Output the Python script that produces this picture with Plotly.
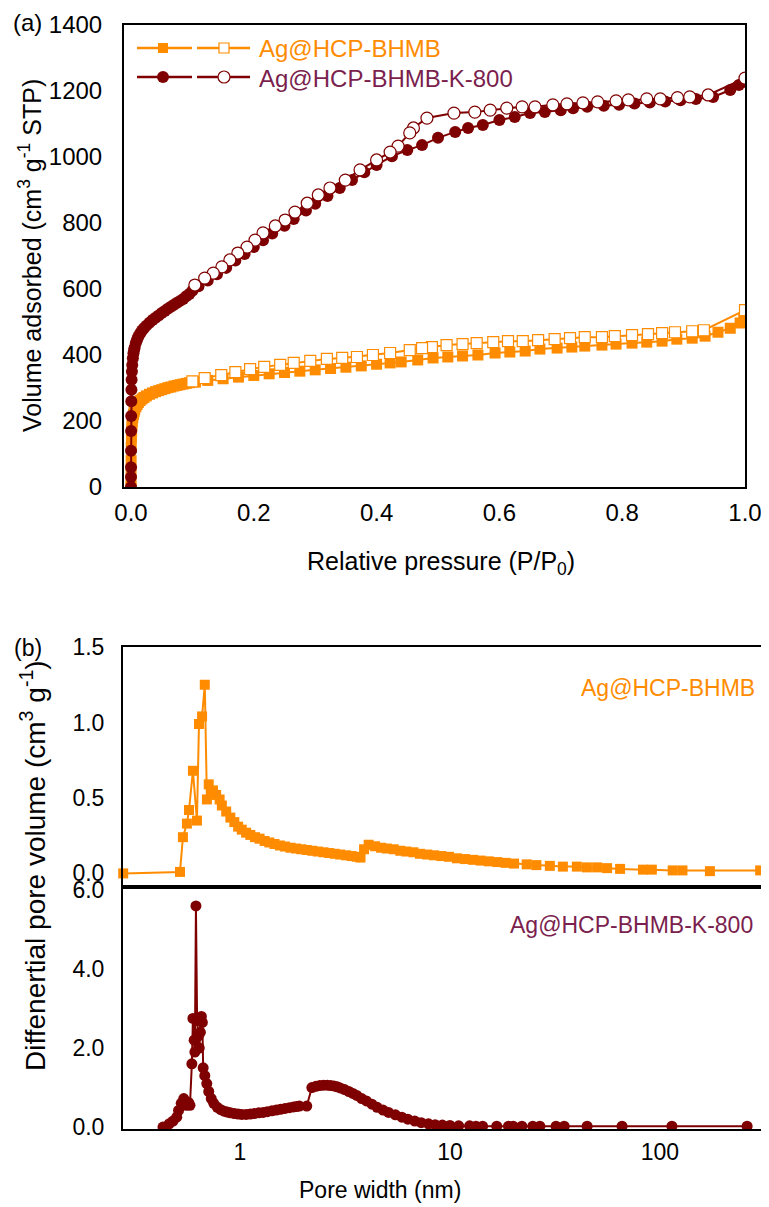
import plotly.graph_objects as go

W, H = 769, 1207
OFF = 8  # the page body margin shifts the figure by this many pixels
ORANGE = "#FF8C00"
MAROON = "#7F0000"
PLUM = "#7B1F4E"
FONT = "Liberation Sans, Arial, sans-serif"

# (a) N2 sorption isotherms, relative pressure vs volume adsorbed
bhmb_ads_p = [0.00001, 0.00005, 0.0001, 0.0002, 0.0004, 0.0007, 0.001, 0.0015, 0.002, 0.003,
              0.004, 0.005, 0.006, 0.008, 0.010, 0.012, 0.015, 0.018, 0.021, 0.025,
              0.03, 0.035, 0.04, 0.045, 0.05, 0.055, 0.06, 0.065, 0.07, 0.075,
              0.08, 0.085, 0.09, 0.095, 0.105, 0.125, 0.15, 0.175, 0.2, 0.225,
              0.25, 0.275, 0.3, 0.325, 0.35, 0.375, 0.4, 0.422, 0.44, 0.467,
              0.492, 0.516, 0.54, 0.565, 0.593, 0.617, 0.642, 0.666, 0.694, 0.718,
              0.739, 0.767, 0.79, 0.816, 0.84, 0.865, 0.889, 0.914, 0.935, 0.956,
              0.976, 0.992, 0.998]
bhmb_ads_v = [0, 20, 45, 80, 120, 150, 170, 185, 197, 210,
              220, 228, 234, 243, 250, 256, 262, 267, 271, 276,
              281, 285, 289, 292, 295, 298, 301, 303, 306, 308,
              310, 312, 314, 316, 318, 323, 328, 333, 338, 343,
              347, 351, 355, 359, 363, 367, 372, 376, 379, 385,
              391, 394, 397, 400, 406, 409, 412, 418, 421, 424,
              427, 430, 433, 436, 439, 442, 448, 451, 457, 469,
              481, 497, 510]
bhmb_des_p = [1.0, 0.933, 0.914, 0.886, 0.865, 0.842, 0.816, 0.788, 0.767, 0.739,
              0.715, 0.69, 0.663, 0.638, 0.614, 0.59, 0.563, 0.54, 0.514, 0.49,
              0.474, 0.454, 0.422, 0.394, 0.368, 0.344, 0.319, 0.292, 0.265, 0.243,
              0.217, 0.194, 0.17, 0.147, 0.12, 0.1]
bhmb_des_v = [536, 475, 472, 469, 466, 463, 460, 457, 454, 454,
              451, 448, 445, 442, 442, 439, 436, 433, 430, 424,
              421, 415, 406, 400, 394, 391, 388, 382, 376, 370,
              364, 357, 348, 339, 330, 320]

k800_ads_p = [0.00001, 0.00003, 0.00005, 0.0001, 0.0002, 0.0003, 0.0005, 0.0007, 0.001, 0.0015,
              0.002, 0.003, 0.004, 0.005, 0.006, 0.008, 0.01, 0.012, 0.015, 0.018,
              0.021, 0.025, 0.03, 0.035, 0.04, 0.045, 0.05, 0.055, 0.06, 0.065,
              0.07, 0.075, 0.08, 0.085, 0.09, 0.095, 0.1, 0.11, 0.125, 0.14,
              0.155, 0.17, 0.185, 0.2, 0.215, 0.23, 0.25, 0.265, 0.285, 0.3,
              0.32, 0.34, 0.36, 0.38, 0.4, 0.425, 0.45, 0.474, 0.5, 0.528,
              0.549, 0.573, 0.6, 0.625, 0.65, 0.674, 0.7, 0.72, 0.743, 0.77,
              0.795, 0.82, 0.845, 0.87, 0.895, 0.92, 0.948, 0.976, 0.99, 0.998]
k800_ads_v = [0, 30, 60, 110, 170, 215, 260, 295, 325, 350,
              370, 390, 405, 415, 423, 437, 447, 456, 466, 474,
              481, 489, 498, 506, 513, 520, 527, 533, 540, 546,
              552, 558, 564, 570, 578, 585, 595, 608, 626, 645,
              664, 686, 706, 727, 748, 768, 792, 812, 838, 858,
              882, 906, 930, 954, 976, 1002, 1021, 1036, 1058, 1076,
              1088, 1097, 1112, 1121, 1133, 1136, 1142, 1148, 1152, 1155,
              1158, 1162, 1165, 1168, 1172, 1176, 1182, 1203, 1218, 1228]
k800_des_p = [1.0, 0.94, 0.91, 0.89, 0.862, 0.84, 0.81, 0.79, 0.76, 0.736,
              0.71, 0.687, 0.658, 0.637, 0.612, 0.585, 0.56, 0.526, 0.482, 0.46,
              0.454, 0.435, 0.422, 0.4, 0.373, 0.349, 0.324, 0.305, 0.287, 0.267,
              0.251, 0.235, 0.215, 0.202, 0.189, 0.174, 0.161, 0.148, 0.134, 0.12,
              0.104]
k800_des_v = [1239, 1188, 1182, 1180, 1176, 1176, 1173, 1170, 1167, 1164,
              1161, 1158, 1152, 1152, 1148, 1142, 1136, 1133, 1118, 1088,
              1073, 1033, 1015, 991, 961, 930, 906, 885, 860, 833,
              809, 791, 770, 748, 727, 709, 688, 667, 648, 633,
              612]

# (b) pore size distributions, pore width (nm) vs differential pore volume
bhmb_w = [0.278, 0.518, 0.535, 0.559, 0.572, 0.597, 0.624, 0.638, 0.66, 0.68,
          0.696, 0.71, 0.744, 0.77, 0.80, 0.82, 0.86, 0.90, 0.94, 0.98,
          1.02, 1.07, 1.12, 1.18, 1.24, 1.31, 1.38, 1.46, 1.55, 1.64,
          1.74, 1.85, 1.96, 2.08, 2.21, 2.35, 2.5, 2.66, 2.83, 3.0,
          3.2, 3.4, 3.6, 3.75, 3.9, 4.1, 4.4, 4.7, 5.0, 5.4,
          5.8, 6.2, 6.7, 7.2, 7.8, 8.4, 9.1, 9.9, 10.8, 11.8,
          12.9, 14.0, 15.3, 16.8, 18.4, 20.2, 23.2, 25.8, 29.9, 34.5,
          40.2, 44.9, 50.2, 56.0, 64.6, 83.0, 91.5, 115, 128, 173,
          300]
bhmb_dv = [0.0, 0.01, 0.24, 0.33, 0.42, 0.68, 0.35, 0.99, 1.04, 1.25,
           0.49, 0.59, 0.55, 0.52, 0.49, 0.45, 0.41, 0.37, 0.34, 0.31,
           0.29, 0.27, 0.255, 0.24, 0.23, 0.215, 0.205, 0.195, 0.185, 0.178,
           0.17, 0.165, 0.16, 0.155, 0.15, 0.145, 0.14, 0.135, 0.13, 0.125,
           0.12, 0.115, 0.11, 0.105, 0.16, 0.19, 0.18, 0.17, 0.165, 0.16,
           0.15, 0.145, 0.14, 0.13, 0.125, 0.12, 0.115, 0.11, 0.10, 0.095,
           0.09, 0.085, 0.08, 0.075, 0.07, 0.065, 0.06, 0.055, 0.05, 0.045,
           0.045, 0.04, 0.04, 0.035, 0.03, 0.025, 0.025, 0.02, 0.02, 0.015,
           0.02]

k800_w = [0.43, 0.46, 0.48, 0.50, 0.51, 0.525, 0.54, 0.555, 0.57, 0.578,
          0.59, 0.597, 0.605, 0.61, 0.617, 0.625, 0.632, 0.64, 0.648, 0.655,
          0.662, 0.668, 0.68, 0.695, 0.71, 0.73, 0.75, 0.78, 0.81, 0.84,
          0.87, 0.9, 0.94, 0.98, 1.02, 1.07, 1.12, 1.17, 1.23, 1.29,
          1.35, 1.42, 1.49, 1.56, 1.64, 1.72, 1.80, 1.86, 1.92, 2.08,
          2.2, 2.3, 2.4, 2.5, 2.6, 2.7, 2.8, 2.9, 3.0, 3.15,
          3.3, 3.45, 3.6, 3.8, 4.0, 4.25, 4.5, 4.8, 5.1, 5.5,
          5.9, 6.3, 6.8, 7.3, 7.9, 8.5, 9.2, 10.0, 11.0, 12.4,
          13.3, 14.3, 16.7, 19.0, 20.0, 22.0, 24.8, 26.8, 32.0, 35.0,
          45.0, 66.0, 114.0, 260.0]
k800_dv = [0.0, 0.08, 0.15, 0.25, 0.42, 0.6, 0.72, 0.55, 0.62, 0.55,
           1.6, 2.75, 2.2, 1.9, 5.6, 2.7, 2.3, 2.0, 2.4, 2.8,
           2.65, 1.5, 1.3, 1.1, 0.9, 0.72, 0.6, 0.5, 0.44, 0.4,
           0.38, 0.36, 0.34, 0.33, 0.32, 0.32, 0.33, 0.34, 0.36, 0.37,
           0.39, 0.41, 0.43, 0.45, 0.47, 0.49, 0.51, 0.52, 0.53, 0.53,
           1.0, 1.03, 1.05, 1.06, 1.06, 1.05, 1.04, 1.02, 0.99, 0.95,
           0.9, 0.85, 0.8, 0.72, 0.66, 0.58, 0.5, 0.43, 0.37, 0.31,
           0.25, 0.2, 0.15, 0.11, 0.08, 0.06, 0.05, 0.04, 0.03, 0.03,
           0.02, 0.02, 0.02, 0.02, 0.02, 0.02, 0.02, 0.02, 0.02, 0.02,
           0.02, 0.02, 0.02, 0.02]

p_ticks = [0.0, 0.2, 0.4, 0.6, 0.8, 1.0]
v_ticks = [0, 200, 400, 600, 800, 1000, 1200, 1400]
w_ticks = [1, 10, 100]
dv_top_ticks = [0.0, 0.5, 1.0, 1.5]
dv_bot_ticks = [0.0, 2.0, 4.0, 6.0]


# helpers take page pixels and convert them to paper fractions
def dom_x(left, right):
    return [(left - OFF) / W, (right - OFF) / W]


def dom_y(top, bottom):
    return [1 - (bottom - OFF) / H, 1 - (top - OFF) / H]


def txt(x, y, text, size, color="black", anchor="center", angle=0):
    return dict(x=(x - OFF) / W, y=1 - (y - OFF) / H, xref="paper", yref="paper",
                text=text, xanchor=anchor, yanchor="middle", textangle=angle,
                showarrow=False, font=dict(family=FONT, size=size, color=color))


fig = go.Figure()

# panel (a)
fig.add_trace(go.Scatter(x=bhmb_ads_p, y=bhmb_ads_v, mode="lines+markers",
                         line=dict(color=ORANGE, width=2),
                         marker=dict(symbol="square", size=11, color=ORANGE),
                         xaxis="x", yaxis="y"))
fig.add_trace(go.Scatter(x=bhmb_des_p, y=bhmb_des_v, mode="lines+markers",
                         line=dict(color=ORANGE, width=2),
                         marker=dict(symbol="square", size=11, color="white",
                                     line=dict(color=ORANGE, width=1.2)),
                         xaxis="x", yaxis="y"))
fig.add_trace(go.Scatter(x=k800_ads_p, y=k800_ads_v, mode="lines+markers",
                         line=dict(color=MAROON, width=2),
                         marker=dict(symbol="circle", size=12, color=MAROON),
                         xaxis="x", yaxis="y"))
fig.add_trace(go.Scatter(x=k800_des_p, y=k800_des_v, mode="lines+markers",
                         line=dict(color=MAROON, width=2),
                         marker=dict(symbol="circle", size=12, color="white",
                                     line=dict(color=MAROON, width=1.2)),
                         xaxis="x", yaxis="y"))

# panel (b)
fig.add_trace(go.Scatter(x=bhmb_w, y=bhmb_dv, mode="lines+markers",
                         line=dict(color=ORANGE, width=2),
                         marker=dict(symbol="square", size=10, color=ORANGE),
                         cliponaxis=False, xaxis="x2", yaxis="y2"))
fig.add_trace(go.Scatter(x=k800_w, y=k800_dv, mode="lines+markers",
                         line=dict(color=MAROON, width=2),
                         marker=dict(symbol="circle", size=11, color=MAROON),
                         xaxis="x3", yaxis="y3"))

# custom legend for panel (a), drawn on a hidden axis in page pixels
leg_rows = [(48, ORANGE, "square", 10), (77, MAROON, "circle", 12)]
for ly, col, sym, sz in leg_rows:
    fig.add_trace(go.Scatter(x=[137, 192, None, 197, 250], y=[ly, ly, None, ly, ly],
                             mode="lines", line=dict(color=col, width=2.5),
                             xaxis="x4", yaxis="y4"))
    fig.add_trace(go.Scatter(x=[163], y=[ly], mode="markers",
                             marker=dict(symbol=sym, size=sz, color=col),
                             xaxis="x4", yaxis="y4"))
    fig.add_trace(go.Scatter(x=[224], y=[ly], mode="markers",
                             marker=dict(symbol=sym, size=sz, color="white",
                                         line=dict(color=col, width=1.2)),
                             xaxis="x4", yaxis="y4"))


def frame(size):
    return dict(showline=True, linecolor="black", linewidth=2, mirror=True,
                showgrid=False, zeroline=False, ticks="", automargin=False,
                tickfont=dict(family=FONT, size=size, color="black"))


fig.update_layout(
    width=W, height=H, showlegend=False,
    margin=dict(l=0, r=0, t=0, b=0, pad=0),
    paper_bgcolor="white", plot_bgcolor="rgba(0,0,0,0)",
    font=dict(family=FONT, size=23, color="black"),
    xaxis=dict(frame(24), domain=dom_x(124, 745), range=[-0.0114, 1.0],
               tickvals=p_ticks, tickformat=".1f", ticklabelstandoff=3,
               anchor="y"),
    yaxis=dict(frame(24), domain=dom_y(25, 487), range=[0, 1400],
               tickvals=v_ticks, ticklabelstandoff=15, anchor="x"),
    xaxis2=dict(frame(23), type="log", domain=dom_x(123, 762), range=[-0.557, 2.486],
                tickvals=w_ticks, showticklabels=False, anchor="y2"),
    yaxis2=dict(frame(23), domain=dom_y(647, 887), range=[-0.09, 1.5],
                tickvals=dv_top_ticks, tickformat=".1f", ticklabelstandoff=12,
                anchor="x2"),
    xaxis3=dict(frame(23), type="log", domain=dom_x(123, 762), range=[-0.557, 2.486],
                tickvals=w_ticks, ticktext=["1", "10", "100"],
                ticklabelstandoff=1, anchor="y3"),
    yaxis3=dict(frame(23), domain=dom_y(887, 1129), range=[-0.05, 6.08],
                tickvals=dv_bot_ticks, tickformat=".1f", ticklabelstandoff=12,
                anchor="x3"),
    xaxis4=dict(domain=[0, 1], range=[OFF, W + OFF], visible=False, anchor="y4",
                automargin=False),
    yaxis4=dict(domain=[0, 1], range=[H + OFF, OFF], visible=False, anchor="x4",
                automargin=False),
)

ann = [
    txt(27, 22, "(a)", 24),
    txt(28, 648, "(b)", 23),
    txt(257, 48, "Ag@HCP-BHMB", 24, ORANGE, "left"),
    txt(257, 78, "Ag@HCP-BHMB-K-800", 24, PLUM, "left"),
    txt(30, 256, "Volume adsorbed (cm<sup>3</sup> g<sup>-1</sup> STP)", 25, angle=-90),
    txt(441, 563, "Relative pressure (P/P<sub>0</sub>)", 25),
    txt(757, 688, "Ag@HCP-BHMB", 23, ORANGE, "right"),
    txt(755, 925, "Ag@HCP-BHMB-K-800", 23, PLUM, "right"),
    txt(33, 866, "Diffenertial pore volume (cm<sup>3</sup> g<sup>-1</sup>)", 28, angle=-90),
    txt(380, 1190, "Pore width (nm)", 23),
]
fig.update_layout(annotations=ann)

fig.write_html("out.html")
